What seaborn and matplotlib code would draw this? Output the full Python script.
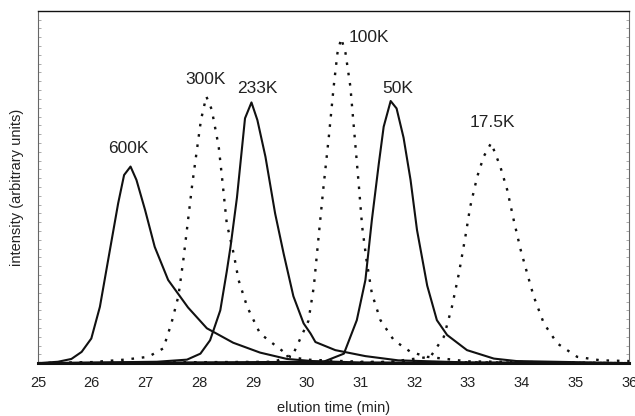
import matplotlib
matplotlib.use("Agg")
import matplotlib.pyplot as plt
import seaborn as sns
import pandas as pd

# elution profiles (x = minutes, y = relative intensity)
t_600k = [25.0, 25.37, 25.62, 25.81, 25.99, 26.15, 26.30, 26.49, 26.60, 26.72, 26.83, 26.99,
          27.17, 27.42, 27.79, 28.14, 28.63, 29.13, 29.63, 30.1, 31.0, 36.0]
i_600k = [0.0, 0.004, 0.012, 0.032, 0.07, 0.16, 0.29, 0.454, 0.534, 0.558, 0.52, 0.435,
          0.33, 0.236, 0.158, 0.099, 0.058, 0.03, 0.012, 0.006, 0.002, 0.0]

t_300k = [25.0, 26.0, 26.61, 27.05, 27.33, 27.48, 27.61, 27.70, 27.79, 27.87, 27.95, 28.03,
          28.13, 28.23, 28.36, 28.42, 28.51, 28.64, 28.73, 28.89, 29.13, 29.45, 29.69, 30.0,
          31.0, 36.0]
i_300k = [0.0, 0.003, 0.01, 0.018, 0.042, 0.113, 0.19, 0.29, 0.406, 0.51, 0.6, 0.69,
          0.757, 0.72, 0.615, 0.53, 0.397, 0.31, 0.236, 0.16, 0.084, 0.046, 0.018, 0.01,
          0.004, 0.0]

t_233k = [25.0, 27.21, 27.77, 28.02, 28.20, 28.39, 28.51, 28.58, 28.70, 28.85, 28.97, 29.08,
          29.23, 29.41, 29.57, 29.75, 29.94, 30.07, 30.16, 30.53, 31.09, 31.7, 33.0, 36.0]
i_233k = [0.0, 0.004, 0.01, 0.027, 0.065, 0.15, 0.26, 0.33, 0.47, 0.695, 0.74, 0.69,
          0.586, 0.425, 0.31, 0.19, 0.113, 0.084, 0.06, 0.037, 0.02, 0.008, 0.002, 0.0]

t_100k = [25.0, 29.4, 29.75, 30.03, 30.13, 30.22, 30.31, 30.41, 30.50, 30.57, 30.64, 30.72,
          30.81, 30.89, 30.97, 31.03, 31.11, 31.21, 31.37, 31.62, 31.93, 32.24, 33.0, 36.0]
i_100k = [0.0, 0.004, 0.027, 0.12, 0.217, 0.36, 0.50, 0.643, 0.785, 0.88, 0.922, 0.88,
          0.785, 0.643, 0.50, 0.387, 0.293, 0.198, 0.122, 0.065, 0.032, 0.018, 0.005, 0.0]

t_50k = [25.0, 30.31, 30.69, 30.93, 31.09, 31.21, 31.34, 31.43, 31.56, 31.67, 31.80, 31.93,
         32.05, 32.24, 32.42, 32.61, 32.98, 33.48, 33.9, 36.0]
i_50k = [0.0, 0.004, 0.027, 0.122, 0.236, 0.406, 0.567, 0.671, 0.744, 0.723, 0.64, 0.52,
         0.378, 0.22, 0.122, 0.08, 0.037, 0.013, 0.006, 0.0]

t_17k = [25.0, 31.5, 32.30, 32.55, 32.70, 32.83, 32.95, 33.04, 33.17, 33.29, 33.43, 33.60,
         33.73, 33.85, 33.98, 34.10, 34.22, 34.41, 34.66, 35.03, 35.47, 36.0]
i_17k = [0.0, 0.003, 0.018, 0.075, 0.16, 0.255, 0.359, 0.444, 0.529, 0.586, 0.625, 0.558,
         0.491, 0.406, 0.321, 0.255, 0.19, 0.113, 0.056, 0.018, 0.008, 0.006]

peak_names = ["600K", "300K", "233K", "100K", "50K", "17.5K"]
peak_dotted = [False, True, False, True, False, True]
label_x = [26.68, 28.11, 29.08, 31.15, 31.70, 33.45]
label_y = [0.609, 0.804, 0.78, 0.925, 0.78, 0.683]

x_ticks = list(range(25, 37))

curves = [(t_600k, i_600k), (t_300k, i_300k), (t_233k, i_233k),
          (t_100k, i_100k), (t_50k, i_50k), (t_17k, i_17k)]

sns.set_style("white")
plt.rcParams["font.family"] = ["Liberation Sans", "DejaVu Sans"]

fig = plt.figure(figsize=(6.35, 4.16), dpi=100)
ax = fig.add_axes([0.06, 0.127, 0.931, 0.847])

for name, dotted, (t, y) in zip(peak_names, peak_dotted, curves):
    df = pd.DataFrame({"time": t, "intensity": y})
    sns.lineplot(data=df, x="time", y="intensity", ax=ax, color="#111111",
                 linewidth=1.7 if dotted else 1.5, estimator=None, sort=False)
    if dotted:
        ax.lines[-1].set_dashes([1.1, 3.3])

for name, lx, ly in zip(peak_names, label_x, label_y):
    ax.text(lx, ly, name, ha="center", va="center", fontsize=12.5, color="#222222")

ax.set_xlim(25, 36)
ax.set_ylim(0, 1)
ax.set_xticks(x_ticks)
ax.set_xticklabels([str(v) for v in x_ticks])
ax.tick_params(axis="x", length=0, pad=9, labelsize=10.5, colors="#222222")

# faint hairline ticks along the side frames
ax.set_yticks([i * 0.025 for i in range(41)])
ax.set_yticklabels([])
ax.tick_params(axis="y", direction="in", length=2, width=0.5, color="#888888",
               left=True, right=True)

ax.spines["top"].set_color("#111111")
ax.spines["top"].set_linewidth(1.0)
ax.spines["bottom"].set_color("#111111")
ax.spines["bottom"].set_linewidth(2.2)
for side in ["left", "right"]:
    ax.spines[side].set_color("#666666")
    ax.spines[side].set_linewidth(0.8)

ax.set_xlabel("elution time (min)", fontsize=10.5, color="#222222")
ax.set_ylabel("intensity (arbitrary units)", fontsize=10.5, color="#222222")
ax.xaxis.set_label_coords(0.5, -0.128)
ax.xaxis.label.set_va("center")
ax.yaxis.set_label_coords(-0.036, 0.5)
ax.yaxis.label.set_va("center")

plt.savefig("out.png", dpi=100)
